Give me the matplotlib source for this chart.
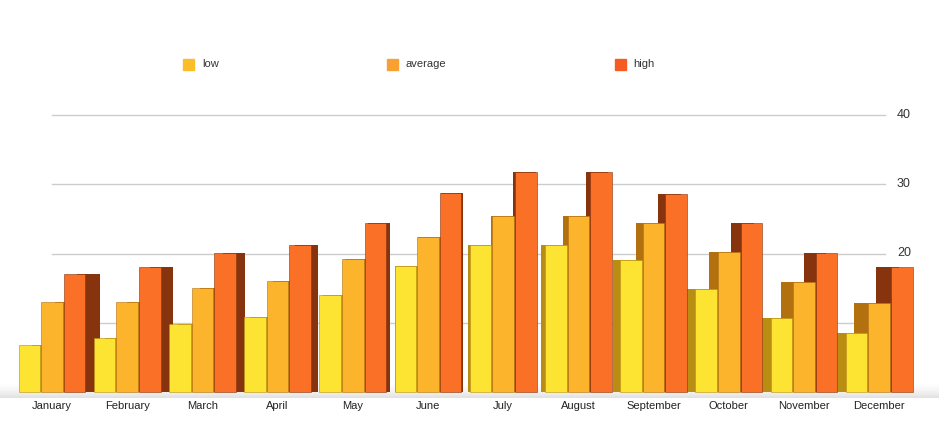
import matplotlib.pyplot as plt
import numpy as np
from matplotlib.patches import Rectangle

months = ['January', 'February', 'March', 'April', 'May', 'June',
          'July', 'August', 'September', 'October', 'November', 'December']
low = [6.8, 7.8, 9.8, 10.8, 14.0, 18.2, 21.2, 21.2, 19.1, 14.9, 10.7, 8.5]
average = [13.0, 13.0, 15.0, 16.0, 19.2, 22.4, 25.4, 25.4, 24.4, 20.2, 15.9, 12.9]
high = [17.0, 18.0, 20.1, 21.2, 24.4, 28.7, 31.8, 31.8, 28.6, 24.4, 20.1, 18.0]
series_names = ['low', 'average', 'high']
y_ticks = [10, 20, 30, 40]

front = ['#fde332', '#fbb42c', '#fa7026']
side = ['#b98d12', '#b3700f', '#86330e']
legend_colors = ['#fbbd2a', '#f9a033', '#f65c22']

plt.rcParams['font.family'] = ['Liberation Sans', 'DejaVu Sans']

fig = plt.figure(figsize=(9.39, 4.45), dpi=100)
W, H = 939, 445
ax = fig.add_axes([0, (H - 398) / H, 1, 398 / H])

px_x = 75.2
px_y = 6.925
ax.set_xlim(-52 / px_x, (W - 52) / px_x)
ax.set_ylim((392 - 398) / px_y, 392 / px_y)

x = np.arange(len(months))
bw = 0.3
data = [low, average, high]

# floor shadow
grad = np.linspace(0, 1, 50).reshape(-1, 1)
ax.imshow(grad, extent=[-0.7, 11.86, -0.87, 1.2], aspect='auto', cmap='Greys_r',
          vmin=-0.8, vmax=1.0, alpha=0.25, origin='lower', zorder=0)

# back wall grid
for t in y_ticks:
    ax.axhline(t, xmin=52 / W, xmax=885 / W, color='#cccccc', lw=1.0, zorder=1)
    ax.text((897 - 52) / px_x, t, str(t), va='center', ha='left', fontsize=9,
            color='#333333', zorder=1.5)

# side faces (perspective depth) then fronts
depth = -(x - 5.5) * 0.034
for k, vals in enumerate(data):
    pos = x + (k - 1) * bw
    ax.bar(pos + depth, vals, bw, bottom=0, color=side[k], zorder=2, linewidth=0)
for k, vals in enumerate(data):
    pos = x + (k - 1) * bw
    ax.bar(pos, vals, bw * 0.96, color=front[k], zorder=3, linewidth=0.4,
           edgecolor=side[k])

ax.set_xticks(x)
ax.set_xticklabels(months, fontsize=8, color='#222222')
ax.tick_params(axis='x', length=0, pad=2)
ax.set_yticks([])
for s in ax.spines.values():
    s.set_visible(False)
ax.patch.set_alpha(0)

# legend
sq_x = [183, 387, 615]
txt_x = [202, 406, 633]
for name, c, sx, tx in zip(series_names, legend_colors, sq_x, txt_x):
    fig.patches.append(Rectangle((sx / W, 1 - 70 / H), 11 / W, 11 / H,
                                 transform=fig.transFigure, color=c))
    fig.text(tx / W, 1 - 64 / H, name, va='center', ha='left', fontsize=8,
             color='#333333')

fig.savefig('out.png', dpi=100)
